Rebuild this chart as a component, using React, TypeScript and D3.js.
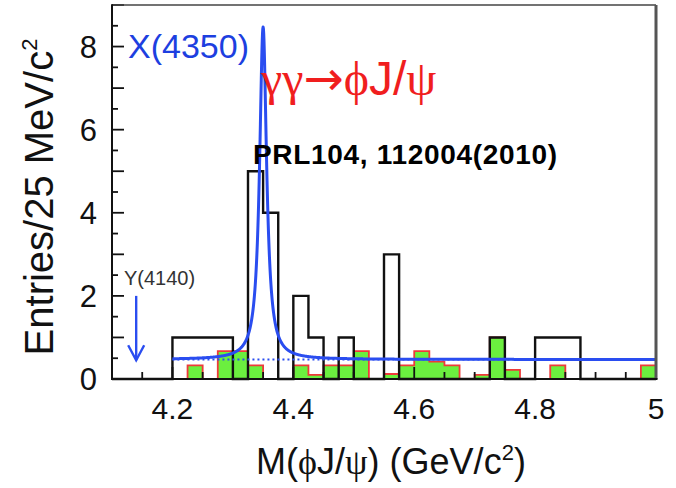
import React from "react";
import * as d3 from "d3";

// ---- data (25 MeV bins from 4.100 to 5.000 GeV/c^2) ----
const binLowEdges = d3.range(36).map((i) => +(4.1 + i * 0.025).toFixed(3));
const dataCounts = [
  0, 0, 0, 0, 1, 1, 1, 1, 0, 5, 4, 0, 2, 1, 0, 1, 0, 0, 3, 0, 0, 0, 0, 0, 0, 1, 0, 0, 1, 1, 1, 0, 0, 0, 0, 0,
];
const sidebandCounts = [
  0, 0, 0, 0, 0, 0.33, 0, 0.67, 0.67, 0.33, 0, 0, 0.33, 0.1, 0.33, 0.33, 0.67, 0, 0.12, 0.33, 0.67, 0.42, 0.33, 0,
  0.1, 1, 0.22, 0, 0, 0.33, 0, 0, 0, 0, 0, 0.33,
];
const xTickLabels = [4.2, 4.4, 4.6, 4.8, 5];
const yTickLabels = [0, 2, 4, 6, 8];

// fit parameters (Breit-Wigner + flat background)
const fitMass = 4.35;
const fitWidth = 0.014;
const fitPeak = 8.0;
const fitBkg = 0.47;
const fitRange = [4.2, 5.0];
const y4140Mass = 4.14;

const W = 676;
const H = 488;
const L = 112, R = 656, T = 5, B = 379;

export default function App() {
  const x = d3.scaleLinear().domain([4.1, 5.0]).range([L, R]);
  const y = d3.scaleLinear().domain([0, 9]).range([B, T]);

  const stepPts = (vals: number[]) => {
    const p = binLowEdges.map((e, i) => [e, vals[i]] as [number, number]);
    p.push([5.0, vals[vals.length - 1]]);
    return p;
  };
  const stepLine = d3
    .line<[number, number]>()
    .x((d) => x(d[0]))
    .y((d) => y(d[1]))
    .curve(d3.curveStepAfter);
  const stepArea = d3
    .area<[number, number]>()
    .x((d) => x(d[0]))
    .y0(y(0))
    .y1((d) => y(d[1]))
    .curve(d3.curveStepAfter);

  const fitPts: [number, number][] = d3.range(fitRange[0], fitRange[1] + 1e-9, 0.0005).map((m) => {
    const u = (m - fitMass) / (fitWidth / 2);
    return [m, fitBkg + fitPeak / (1 + u * u)];
  });
  const fitLine = d3
    .line<[number, number]>()
    .x((d) => x(d[0]))
    .y((d) => y(d[1]));

  const xTicks = d3.range(0, 19).map((i) => +(4.1 + i * 0.05).toFixed(2));
  const yTicks = d3.range(0, 19).map((i) => i * 0.5);

  const sans = "'Liberation Sans', Arial, Helvetica, sans-serif";
  const serif = "'Liberation Serif', 'Times New Roman', serif";

  const ax = x(y4140Mass);
  const aTop = y(2.0);
  const aBot = y(0.45);

  return (
    <svg width={W} height={H} style={{ position: "absolute", left: 0, top: 0, background: "#fff" }}>
      <rect x={0} y={0} width={W} height={H} fill="#fff" />
      {/* sideband histogram */}
      <path d={stepArea(stepPts(sidebandCounts)) || ""} fill="#6bef3f" />
      <path d={stepLine(stepPts(sidebandCounts)) || ""} fill="none" stroke="#ee3a3a" strokeWidth={1.8} />
      {/* data histogram */}
      <path d={stepLine(stepPts(dataCounts)) || ""} fill="none" stroke="#111" strokeWidth={2.4} />
      {/* fit */}
      <line
        x1={x(fitRange[0])}
        x2={x(fitRange[1])}
        y1={y(fitBkg)}
        y2={y(fitBkg)}
        stroke="#2a4df0"
        strokeWidth={2}
        strokeDasharray="2,3"
      />
      <path d={fitLine(fitPts) || ""} fill="none" stroke="#2a4df0" strokeWidth={3} strokeLinejoin="round" />

      {/* ticks */}
      {xTicks.map((t) => {
        const major = Math.abs((t * 10) % 2) < 1e-6 || Math.abs((t * 10) % 2 - 2) < 1e-6;
        return <line key={"xt" + t} x1={x(t)} x2={x(t)} y1={B} y2={B - (major ? 12 : 7)} stroke="#111" strokeWidth={1.8} />;
      })}
      {yTicks.map((t) => (
        <line key={"yt" + t} x1={L} x2={L + (t % 1 === 0 ? 12 : 6)} y1={y(t)} y2={y(t)} stroke="#111" strokeWidth={1.8} />
      ))}

      {/* frame */}
      <line x1={L} x2={R} y1={T} y2={T} stroke="#444" strokeWidth={1.5} />
      <line x1={R} x2={R} y1={T} y2={B} stroke="#555" strokeWidth={3} />
      <line x1={L} x2={L} y1={T - 0.75} y2={B + 1} stroke="#111" strokeWidth={2} />
      <line x1={L} x2={R + 1.5} y1={B} y2={B} stroke="#111" strokeWidth={2} />

      {/* tick labels */}
      {xTickLabels.map((t) => (
        <text key={"xl" + t} x={x(t)} y={419} textAnchor="middle" fontFamily={sans} fontSize={30} fill="#111">
          {String(t)}
        </text>
      ))}
      {yTickLabels.map((t) => (
        <text key={"yl" + t} x={97} y={y(t) + 11} textAnchor="end" fontFamily={sans} fontSize={31} fill="#111">
          {String(t)}
        </text>
      ))}

      {/* axis titles */}
      <text x={391} y={474} textAnchor="middle" fontFamily={sans} fontSize={36} fill="#111">
        M(<tspan fontFamily={serif}>ϕ</tspan>J/<tspan fontFamily={serif}>ψ</tspan>) (GeV/c
        <tspan dy={-14} fontSize={22}>2</tspan>
        <tspan dy={14}>)</tspan>
      </text>
      <text
        transform={`translate(53,197) rotate(-90)`}
        textAnchor="middle"
        fontFamily={sans}
        fontSize={40}
        fill="#111"
      >
        Entries/25 MeV/c<tspan dy={-16} fontSize={22}>2</tspan>
      </text>

      {/* annotations */}
      <text x={128} y={58} fontFamily={sans} fontSize={34} fill="#1d3fe0">
        X(4350)
      </text>
      <text x={261} y={95} fontSize={48} fill="#f01e1e">
        <tspan fontFamily={serif}>γγ</tspan>
        <tspan fontFamily="'DejaVu Sans', sans-serif">→</tspan>
        <tspan fontFamily={serif}>ϕ</tspan>
        <tspan fontFamily={sans}>J</tspan>
        <tspan fontFamily={sans}>/</tspan>
        <tspan fontFamily={serif}>ψ</tspan>
      </text>
      <text x={253} y={164} fontFamily={sans} fontWeight="bold" fontSize={28} textLength={304} fill="#000">
        PRL104, 112004(2010)
      </text>
      <text x={124} y={285} fontFamily={sans} fontSize={20} fill="#333">
        Y(4140)
      </text>
      <line x1={ax} x2={ax} y1={aTop} y2={aBot} stroke="#2a4df0" strokeWidth={2.4} />
      <polyline
        points={`${ax - 8},${aBot - 15} ${ax},${aBot} ${ax + 8},${aBot - 15}`}
        fill="none"
        stroke="#2a4df0"
        strokeWidth={2.4}
      />
    </svg>
  );
}
